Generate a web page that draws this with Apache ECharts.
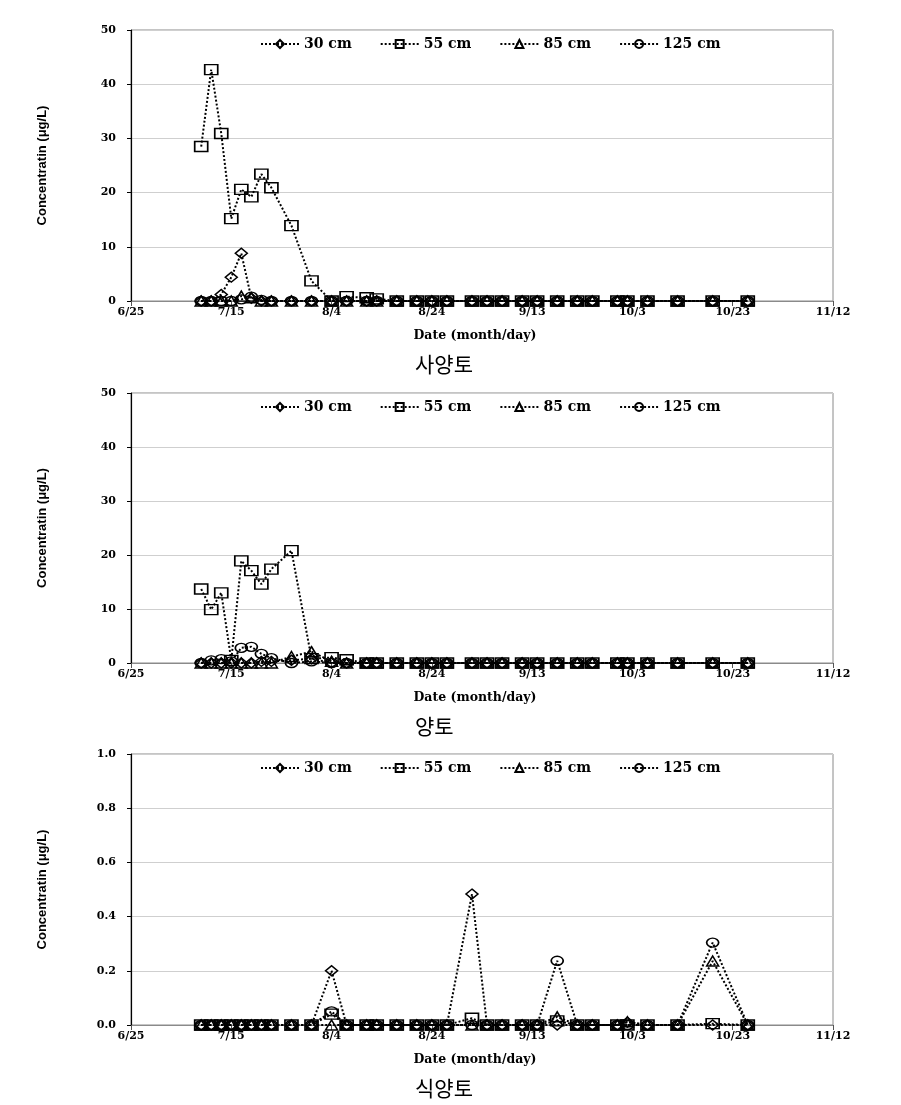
<!DOCTYPE html>
<html>
<head>
<meta charset="utf-8">
<script src="https://cdn.jsdelivr.net/npm/echarts@6/dist/echarts.min.js"></script>
<style>
  html, body { margin: 0; padding: 0; background: #fff; }
  #chart { width: 901px; height: 1105px; }
</style>
</head>
<body>
<div id="chart"></div>
<script>
// ---- data ----
const sampleDates = ['7/9','7/11','7/13','7/15','7/17','7/19','7/21','7/23','7/27','7/31',
  '8/4','8/7','8/11','8/13','8/17','8/21','8/24','8/27','9/1','9/4',
  '9/7','9/11','9/14','9/18','9/22','9/25','9/30','10/2','10/6','10/12','10/19','10/26'];
const xTickLabels = ['6/25','7/15','8/4','8/24','9/13','10/3','10/23','11/12'];
const seriesNames = ['30 cm','55 cm','85 cm','125 cm'];
const panelTitles = ['사양토','양토','식양토'];

// Panel 1: 사양토
const sandy30  = [0,0,1.2,4.4,8.8,0.5,0,0,0,0, 0,0,0,0,0,0,0,0,0,0, 0,0,0,0,0,0,0,0,0,0,0,0];
const sandy55  = [28.5,42.7,30.9,15.2,20.6,19.2,23.4,20.9,13.9,3.7, 0,0.8,0.6,0.4,0,0,0,0,0,0, 0,0,0,0,0,0,0,0,0,0,0,0];
const sandy85  = [0,0,0,0,0.9,0.6,0,0,0,0, 0,0,0,0,0,0,0,0,0,0, 0,0,0,0,0,0,0,0,0,0,0,0];
const sandy125 = [0,0,0,0,0.3,0.8,0.2,0,0,0, 0,0,0,0,0,0,0,0,0,0, 0,0,0,0,0,0,0,0,0,0,0,0];

// Panel 2: 양토
const loam30  = [0,0,0,0,0,0,0.3,0.3,0.5,0.8, 0,0,0,0,0,0,0,0,0,0, 0,0,0,0,0,0,0,0,0,0,0,0];
const loam55  = [13.7,9.9,13.0,0.5,18.9,17.1,14.6,17.4,20.8,0.8, 1.0,0.6,0,0,0,0,0,0,0,0, 0,0,0,0,0,0,0,0,0,0,0,0];
const loam85  = [0,0,0,0,0,0,0,0,1.2,2.1, 0.3,0,0,0,0,0,0,0,0,0, 0,0,0,0,0,0,0,0,0,0,0,0];
const loam125 = [0,0.5,0.7,0.3,2.8,3.0,1.7,0.9,0,0.3, 0,0,0,0,0,0,0,0,0,0, 0,0,0,0,0,0,0,0,0,0,0,0];

// Panel 3: 식양토
const clay30  = [0,0,0,0,0,0,0,0,0,0, 0.2,0,0,0,0,0,0,0,0.483,0, 0,0,0,0,0,0,0,0.01,0,0,0,0];
const clay55  = [0,0,0,0,0,0,0,0,0,0, 0.04,0,0,0,0,0,0,0,0.025,0, 0,0,0,0.015,0,0,0,0,0,0,0.005,0];
const clay85  = [0,0,0,0,0,0,0,0,0,0, 0,0,0,0,0,0,0,0,0,0, 0,0,0,0.03,0,0,0,0.012,0,0,0.236,0];
const clay125 = [0,0,0,0,0,0,0,0,0,0, 0.05,0,0,0,0,0,0,0,0,0, 0,0,0,0.237,0,0,0,0,0,0,0.304,0];

const yMax = [50, 50, 1.0];
const yStep = [10, 10, 0.2];

// ---- build ----
function dayOffset(s) {
  const [m, d] = s.split('/').map(Number);
  return (Date.UTC(2021, m - 1, d) - Date.UTC(2021, 5, 25)) / 86400000;
}
const panels = [
  [sandy30, sandy55, sandy85, sandy125],
  [loam30, loam55, loam85, loam125],
  [clay30, clay55, clay85, clay125]
];
const symbols = ['diamond', 'rect', 'triangle', 'circle'];
const symbolSizes = [[12, 10], [13, 10], [12, 10], [12, 9]];

const gridTops = [30, 393, 754];
const gridHeights = [271, 270, 271];
const serifBold = { fontFamily: 'DejaVu Serif', fontWeight: 'bold', color: '#000' };

const grids = [], xAxes = [], yAxes = [], series = [], legends = [], graphics = [];
panels.forEach((vals, p) => {
  grids.push({ left: 131, top: gridTops[p], width: 702, height: gridHeights[p],
    show: true, borderColor: '#8a8a8a', borderWidth: 1 });
  xAxes.push({
    type: 'value', gridIndex: p, min: 0, max: 140, interval: 20,
    name: 'Date (month/day)', nameLocation: 'middle', nameGap: 28,
    nameTextStyle: Object.assign({ fontSize: 12.5, padding: [0, 14, 0, 0] }, serifBold),
    axisLine: { show: true, onZero: false, lineStyle: { color: '#8a8a8a', width: 1 } },
    axisTick: { show: true, length: 5, lineStyle: { color: '#555' } },
    axisLabel: Object.assign({ fontSize: 11, margin: 6,
      formatter: v => xTickLabels[Math.round(v / 20)] }, serifBold),
    splitLine: { show: false }
  });
  yAxes.push({
    type: 'value', gridIndex: p, min: 0, max: yMax[p], interval: yStep[p],
    name: 'Concentratin (μg/L)', nameLocation: 'middle', nameGap: 82,
    nameTextStyle: { fontFamily: "'Liberation Sans', Arial, sans-serif",
      fontWeight: 'bold', fontSize: 13, color: '#000' },
    axisLine: { show: true, lineStyle: { color: '#000', width: 1.2 } },
    axisTick: { show: true, length: 4, lineStyle: { color: '#000' } },
    axisLabel: Object.assign({ fontSize: 11, margin: 15,
      formatter: v => (p === 2 ? v.toFixed(1) : String(v)) }, serifBold),
    splitLine: { show: true, lineStyle: { color: '#cfcfcf', width: 1 } }
  });
  vals.forEach((arr, k) => {
    series.push({
      type: 'line', name: seriesNames[k], xAxisIndex: p, yAxisIndex: p,
      data: sampleDates.map((d, i) => [dayOffset(d), arr[i]]),
      symbol: symbols[k], symbolSize: symbolSizes[k],
      showAllSymbol: true,
      lineStyle: { color: '#000', width: 2, type: [2, 2] },
      itemStyle: { color: 'rgba(255,255,255,0)', borderColor: '#000', borderWidth: 1.5 },
      emphasis: { disabled: true },
      animation: false
    });
  });
  legends.push({
    data: seriesNames, left: 255, top: gridTops[p] + 2, orient: 'horizontal',
    itemWidth: 38, itemHeight: 10, itemGap: 28,
    textStyle: Object.assign({ fontSize: 14 }, serifBold),
    selectedMode: false
  });
  graphics.push({
    type: 'text', left: 415, top: gridTops[p] + gridHeights[p] + 53,
    style: { text: panelTitles[p], fontSize: 21,
      fontFamily: "'Noto Sans CJK KR', sans-serif", fill: '#000' }
  });
});

const chart = echarts.init(document.getElementById('chart'), null, { renderer: 'canvas' });
chart.setOption({
  backgroundColor: '#fff',
  animation: false,
  grid: grids, xAxis: xAxes, yAxis: yAxes, series: series,
  legend: legends, graphic: graphics
});
</script>
</body>
</html>
